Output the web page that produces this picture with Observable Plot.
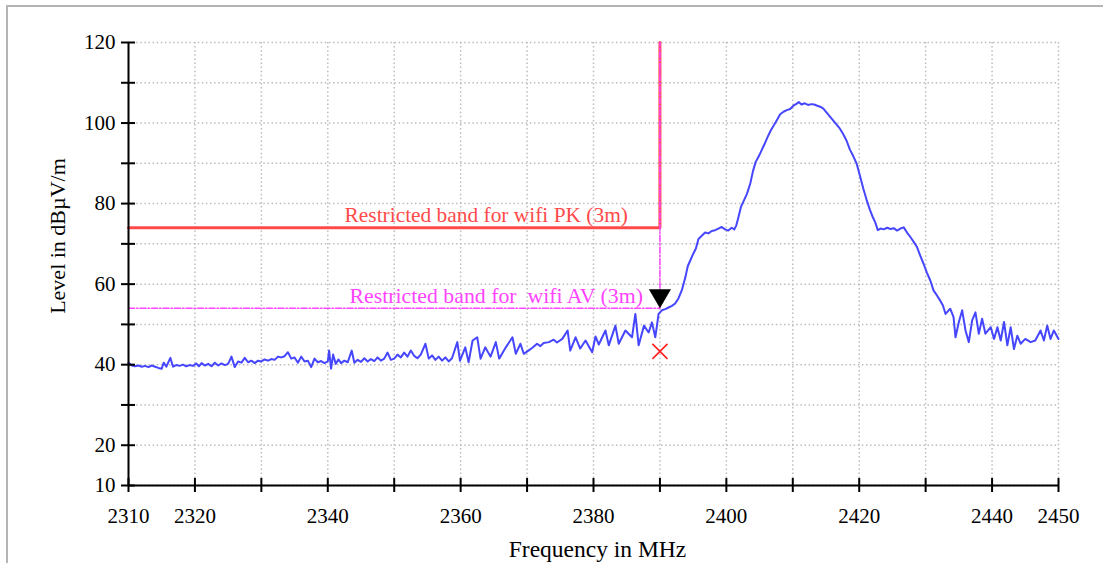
<!DOCTYPE html>
<html><head><meta charset="utf-8">
<script src="https://cdn.jsdelivr.net/npm/d3@7"></script>
<script src="https://cdn.jsdelivr.net/npm/@observablehq/plot@0.6"></script>
<style>
html,body{margin:0;padding:0;overflow:hidden;background:#fff;width:1103px;height:563px;}
#frame{position:absolute;left:6px;top:5px;width:1200px;height:700px;border-top:2px solid #b4b4b4;border-left:2px solid #b4b4b4;}
#chart{position:absolute;left:0;top:0;}
</style></head><body>
<div id="frame"></div>
<div id="chart"></div>
<script>
// ---- data ----
const freq = [
2310,2310.5,2311,2311.5,2312,2312.5,2313,2313.5,2314,2314.5,2315,2315.3,2315.7,2316.3,2316.7,2317.2,2317.7,2318.2,2318.7,2319.2,2319.7,
2320.2,2320.6,2321,2321.5,2322,2322.5,2323,2323.5,2324,2324.5,2325,2325.5,2326,2326.5,2327,2327.5,2328,2328.5,2329,2329.5,
2330,2330.5,2331,2331.5,2332,2332.5,2333,2333.5,2334,2334.5,2335,2335.5,2336,2336.5,2337,2337.5,2338,2338.5,2339,2339.5,
2340,2340.2,2340.5,2340.8,2341.2,2341.6,2342,2342.5,2343,2343.6,2344,2344.5,2345,2345.5,2346,2346.5,2347,2347.5,2348,2348.5,2349,2349.5,
2350,2350.5,2351,2351.5,2352,2352.5,2353,2353.5,2354,2354.7,2355.2,2355.7,2356.2,2356.7,2357.2,2357.7,2358.2,2358.7,2359.5,2359.9,
2360.7,2361.2,2361.8,2362.5,2363,2363.7,2364.5,2365.3,2365.8,2366.8,2367.8,2368.3,2369,2369.5,
2370.2,2370.8,2371.5,2372,2372.5,2373.3,2374,2374.5,2375.3,2376.1,2376.5,2377.3,2378,2378.8,2379.8,
2380.3,2380.8,2381.8,2382.3,2383.3,2383.8,2384.8,2385.8,2386.3,2386.8,2387.6,2388.3,2388.8,2389.3,2389.8,
2390.3,2390.8,2391.3,2391.8,2392.3,2392.8,2393.3,2393.8,2394.2,2394.6,2395,2395.4,2395.8,2396.3,2396.8,2397.3,2397.8,2398.3,2398.8,2399.3,2399.8,
2400.3,2400.8,2401.2,2401.5,2401.8,2402.2,2402.7,2403.1,2403.6,2404,2404.4,2404.9,2405.3,2405.7,2406.2,2406.7,2407.2,2407.7,2408.1,2408.6,2409.1,2409.6,
2410.1,2410.6,2410.9,2411.3,2411.8,2412.3,2412.8,2413.2,2413.7,2414.2,2414.6,2415.1,2415.6,2416.1,2416.6,2417.1,2417.6,2418.1,2418.6,2419.1,2419.6,
2420.1,2420.6,2421.1,2421.6,2422,2422.4,2422.8,2423.2,2423.7,2424.2,2424.7,2425.2,2425.7,2426.2,2426.7,2427.2,2427.7,2428.2,2428.7,2429.2,2429.7,
2430.2,2430.7,2431.2,2431.7,2432.2,2432.6,2433,2433.7,2434.2,2434.5,2435,2435.5,2436,2436.5,2437,2437.5,2438,2438.5,2439,2439.8,
2440.3,2440.8,2441.3,2441.8,2442.3,2442.8,2443.3,2443.8,2444.3,2445,2445.8,2446.5,2447.3,2447.8,2448.3,2448.8,2449.3,2450
];
const level = [
40.5,39.8,39.6,39.8,39.5,39.7,39.4,39.8,39.5,39.2,39.0,40.5,39.5,41.7,39.5,39.9,39.7,40.0,39.6,39.9,39.7,
40.3,39.6,40.4,39.8,40.2,39.6,40.5,39.8,40.3,39.9,40.2,42.0,39.4,40.8,40.5,41.7,40.6,41.0,40.4,41.0,
40.8,41.3,41.0,41.4,41.2,42.0,41.8,42.1,43.1,41.5,41.8,40.5,42.0,40.8,41.0,39.4,41.5,40.6,40.9,40.4,
40.8,43.5,39.0,42.5,40.2,41.3,40.4,41.0,40.6,43.5,40.5,41.2,40.7,41.6,40.8,41.4,40.9,41.8,41.0,41.5,43.0,41.2,
41.5,42.5,41.8,43.0,42.0,43.5,42.2,41.6,42.5,45.2,41.5,42.3,41.2,42.0,41.0,41.8,40.8,41.6,45.6,41.0,
44.3,40.6,46.0,46.8,41.5,44.3,42.0,45.6,41.5,44.3,46.8,42.7,45.2,42.7,
43.5,44.2,45.2,44.6,45.4,45.6,46.2,45.5,46.4,48.5,43.5,46.8,44.0,46.0,43.1,
47.0,45.0,48.5,44.8,49.7,45.2,48.5,46.8,52.6,44.8,49.7,48.0,50.5,46.8,52.6,
53.5,53.8,54.2,54.6,55.2,56.5,58.5,61.5,64.5,66.0,67.5,68.8,71.2,72.0,72.8,72.6,73.2,73.4,73.8,74.2,73.6,
73.3,74.0,73.6,74.6,76.5,79.2,81.0,82.4,85.0,88.0,90.3,91.8,93.2,94.6,96.5,98.2,99.6,101.0,102.2,102.8,103.2,103.5,
104.3,104.8,105.2,104.6,104.9,104.5,104.7,104.6,104.3,104.0,103.6,102.6,101.6,100.6,99.6,98.6,97.2,95.6,93.4,91.8,90.0,
87.0,83.8,81.0,78.5,76.8,75.4,73.4,73.8,73.6,74.0,73.7,73.9,73.3,73.8,74.1,72.8,71.7,70.5,69.2,67.0,65.0,
62.8,60.9,58.4,57.2,55.9,54.7,52.6,53.9,51.8,46.8,50.6,53.5,48.5,45.6,51.0,53.0,47.7,51.4,47.7,49.3,
46.4,49.3,46.0,50.6,44.8,49.3,43.9,47.2,45.2,46.4,45.6,46.0,48.5,46.0,49.7,46.4,48.5,46.4
];
const xTickMarks = [2310,2320,2330,2340,2350,2360,2370,2380,2390,2400,2410,2420,2430,2440,2450];
const xTickLabels = [2310,2320,2340,2360,2380,2400,2420,2440,2450];
const yTickMarks = [10,20,30,40,50,60,70,80,90,100,110,120];
const yTickLabels = [10,20,40,60,80,100,120];
const xDomain = [2310,2450];
const yDomain = [10,120];
const bandStart = 2310;
const bandEdge = 2390;
const pkLimit = 74;
const avLimit = 54;
const markerLevel = 54;
const avMeasured = 43.3;
const pkLabel = "Restricted band for wifi PK (3m)";
const avLabel = "Restricted band for  wifi AV (3m)";
const xLabel = "Frequency in MHz";
const yLabel = "Level in dB\u00b5V/m";

// ---- derived tables ----
const trace = freq.map((f, i) => ({f, v: level[i]}));
const pkPath = [{x: bandStart, y: pkLimit}, {x: bandEdge, y: pkLimit}, {x: bandEdge, y: yDomain[1]}];
const avPath = [{x: bandStart, y: avLimit}, {x: bandEdge, y: avLimit}, {x: bandEdge, y: yDomain[1]}];

const RED = "#ff4a4a", MAG = "#ff44ff", BLUE = "#4646ff", GRID = "#bdbdbd";

const chart = Plot.plot({
  width: 1103, height: 563,
  marginLeft: 128, marginRight: 45, marginTop: 42, marginBottom: 78,
  style: "font-family: 'Liberation Serif', 'Times New Roman', serif; font-size: 21px; background: transparent; color: #000; white-space: pre; overflow: visible;",
  x: {domain: xDomain},
  y: {domain: yDomain},
  marks: [
    Plot.gridX(xTickMarks, {stroke: GRID, strokeOpacity: 1, strokeWidth: 1.5, strokeDasharray: "1.5,2.6"}),
    Plot.gridY(yTickMarks, {stroke: GRID, strokeOpacity: 1, strokeWidth: 1.5, strokeDasharray: "1.5,2.6"}),
    Plot.line(pkPath, {x: "x", y: "y", stroke: RED, strokeWidth: 3}),
    Plot.line(avPath, {x: "x", y: "y", stroke: MAG, strokeWidth: 1.5, strokeDasharray: "6,2,1.5,2"}),
    Plot.line(trace, {x: "f", y: "v", stroke: BLUE, strokeWidth: 2}),
    Plot.text([pkLabel], {x: bandEdge, y: pkLimit, text: d => d, textAnchor: "end", dx: -32, dy: -13, fill: RED, fontSize: 21.4}),
    Plot.text([avLabel], {x: bandEdge, y: avLimit, text: d => d, textAnchor: "end", dx: -17, dy: -12, fill: MAG, fontSize: 21.8}),
    Plot.dot([{x: bandEdge, y: markerLevel}], {x: "x", y: "y", symbol: "triangle", rotate: 180, r: 8.2, fill: "#000", stroke: null, dy: -12.7}),
    Plot.dot([{x: bandEdge, y: avMeasured}], {x: "x", y: "y", symbol: "times", r: 6.9, stroke: "#ff2020", strokeWidth: 1.6}),
    Plot.ruleX([xDomain[0]], {stroke: "#000", strokeWidth: 2}),
    Plot.ruleY([yDomain[0]], {stroke: "#000", strokeWidth: 2}),
    Plot.axisX(xTickMarks, {tickSize: 14, dy: -7, fill: "none", label: null, strokeWidth: 2}),
    Plot.axisX(xTickLabels, {tickSize: 0, tickPadding: 23, label: null, tickFormat: d => String(d), fontSize: 21}),
    Plot.axisY(yTickMarks, {tickSize: 14, dx: 7, fill: "none", label: null, strokeWidth: 2}),
    Plot.axisY(yTickLabels, {tickSize: 0, tickPadding: 13, label: null, tickFormat: d => String(d), fontSize: 21}),
    Plot.text([xLabel], {frameAnchor: "bottom", text: d => d, dx: 4, dy: 71, fontSize: 23.5, fill: "#000"}),
    Plot.text([yLabel], {frameAnchor: "left", text: d => d, rotate: -90, textAnchor: "middle", dx: -71, dy: -28, fontSize: 22, fill: "#000"})
  ]
});
document.getElementById("chart").appendChild(chart);
</script>
</body></html>
